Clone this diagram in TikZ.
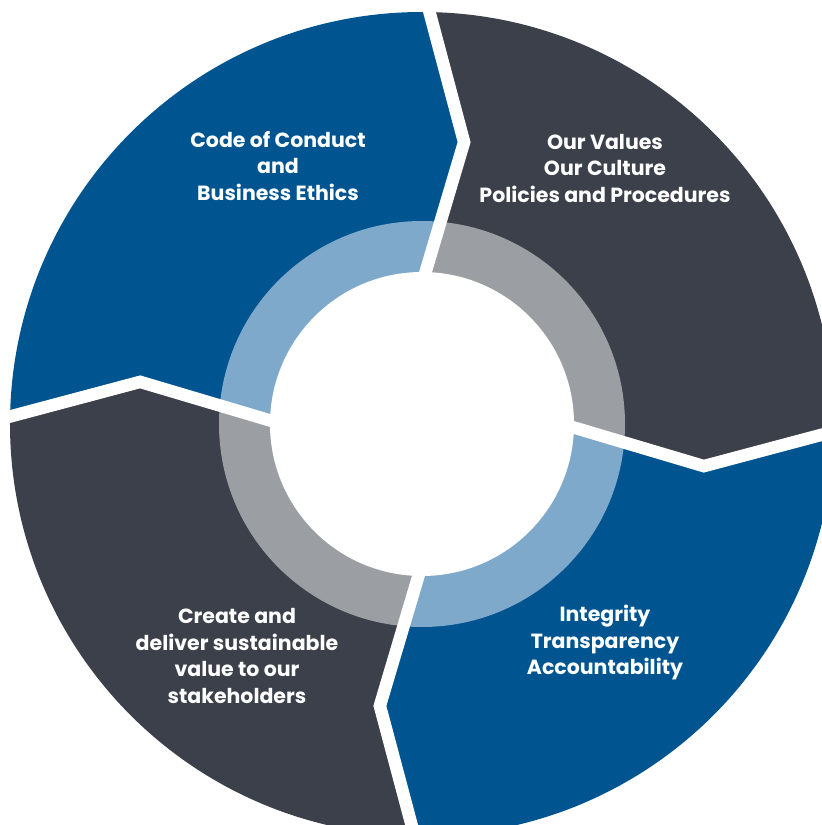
\documentclass[tikz,border=0pt]{standalone}
\usepackage{fontspec}
\setmainfont{Poppins}
\usepackage{tikz}
\usetikzlibrary{calc}

\definecolor{segblue}{HTML}{005591}
\definecolor{segdark}{HTML}{3B404A}
\definecolor{ringlight}{HTML}{7FA9CB}
\definecolor{ringgrey}{HTML}{9B9EA3}

\begin{document}
\begin{tikzpicture}[x=1pt, y=1pt,
    segtext/.style={text=white, align=center,
      font=\bfseries\fontsize{20.5}{26.5}\selectfont},
    gap/.style={white, line width=12.5pt, line join=miter}]
      \useasboundingbox (-422,-401) rectangle (400,424);
      \begin{scope}
        \clip (0,0) circle (412);
        \fill[segblue] (0,0) -- (180:150) -- (171.5:285) -- (180:430) -- (-600,0) -- (-600,600) -- (0,600) -- (90:430) -- (81.5:285) -- (90:150) -- cycle;
        \fill[segdark, rotate=-90] (0,0) -- (180:150) -- (171.5:285) -- (180:430) -- (-600,0) -- (-600,600) -- (0,600) -- (90:430) -- (81.5:285) -- (90:150) -- cycle;
        \fill[segblue, rotate=180] (0,0) -- (180:150) -- (171.5:285) -- (180:430) -- (-600,0) -- (-600,600) -- (0,600) -- (90:430) -- (81.5:285) -- (90:150) -- cycle;
        \fill[segdark, rotate=90] (0,0) -- (180:150) -- (171.5:285) -- (180:430) -- (-600,0) -- (-600,600) -- (0,600) -- (90:430) -- (81.5:285) -- (90:150) -- cycle;
      \end{scope}
      \begin{scope}
        \clip (0,0) circle (203);
        \fill[ringlight] (0,0) -- (180:150) -- (171.5:285) -- (-600,0) -- (-600,600) -- (0,600) -- (81.5:285) -- (90:150) -- cycle;
        \fill[ringgrey, rotate=-90] (0,0) -- (180:150) -- (171.5:285) -- (-600,0) -- (-600,600) -- (0,600) -- (81.5:285) -- (90:150) -- cycle;
        \fill[ringlight, rotate=180] (0,0) -- (180:150) -- (171.5:285) -- (-600,0) -- (-600,600) -- (0,600) -- (81.5:285) -- (90:150) -- cycle;
        \fill[ringgrey, rotate=90] (0,0) -- (180:150) -- (171.5:285) -- (-600,0) -- (-600,600) -- (0,600) -- (81.5:285) -- (90:150) -- cycle;
      \end{scope}
      \fill[white] (0,0) circle (152);
      \draw[gap] (90:140) -- (81.5:285) -- (90:440);
      \draw[gap] (0:140) -- (-8.5:285) -- (0:440);
      \draw[gap] (-90:140) -- (-98.5:285) -- (-90:440);
      \draw[gap] (180:140) -- (171.5:285) -- (180:440);
      \node[segtext] (ethics) at (-144,258) {Code of Conduct\\and\\Business Ethics};
      \node[segtext] (values) at (183,256) {Our Values\\Our Culture\\Policies and Procedures};
      \node[segtext] (integrity) at (183,-219) {Integrity\\Transparency\\Accountability};
      \node[segtext] (stakeholders) at (-185,-232) {Create and\\deliver sustainable\\value to our\\stakeholders};
    \end{tikzpicture}
\end{document}
